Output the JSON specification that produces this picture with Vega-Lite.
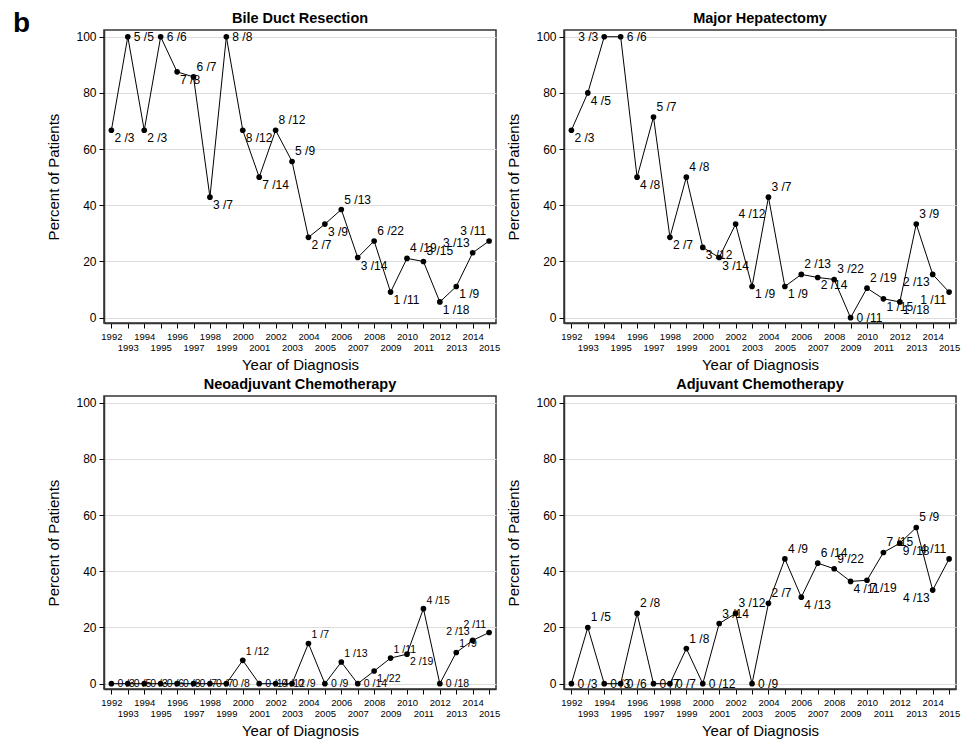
{
  "$schema": "https://vega.github.io/schema/vega-lite/v6.json",
  "background": "white",
  "padding": {"left": 13, "top": 9, "right": 5, "bottom": 5},
  "title": {"text": "b", "orient": "left", "angle": 0, "anchor": "end", "fontSize": 28, "fontWeight": "bold", "font": "Liberation Sans", "color": "black", "offset": -1, "frame": "bounds"},
  "datasets": {
    "rates": [
      {"panel": "Bile Duct Resection", "year": 1992, "pct": 66.7, "label": "2 /3"},
      {"panel": "Bile Duct Resection", "year": 1993, "pct": 100, "label": "5 /5"},
      {"panel": "Bile Duct Resection", "year": 1994, "pct": 66.7, "label": "2 /3"},
      {"panel": "Bile Duct Resection", "year": 1995, "pct": 100, "label": "6 /6"},
      {"panel": "Bile Duct Resection", "year": 1996, "pct": 87.5, "label": "7 /8"},
      {"panel": "Bile Duct Resection", "year": 1997, "pct": 85.7, "label": "6 /7"},
      {"panel": "Bile Duct Resection", "year": 1998, "pct": 42.9, "label": "3 /7"},
      {"panel": "Bile Duct Resection", "year": 1999, "pct": 100, "label": "8 /8"},
      {"panel": "Bile Duct Resection", "year": 2000, "pct": 66.7, "label": "8 /12"},
      {"panel": "Bile Duct Resection", "year": 2001, "pct": 50, "label": "7 /14"},
      {"panel": "Bile Duct Resection", "year": 2002, "pct": 66.7, "label": "8 /12"},
      {"panel": "Bile Duct Resection", "year": 2003, "pct": 55.6, "label": "5 /9"},
      {"panel": "Bile Duct Resection", "year": 2004, "pct": 28.6, "label": "2 /7"},
      {"panel": "Bile Duct Resection", "year": 2005, "pct": 33.3, "label": "3 /9"},
      {"panel": "Bile Duct Resection", "year": 2006, "pct": 38.5, "label": "5 /13"},
      {"panel": "Bile Duct Resection", "year": 2007, "pct": 21.4, "label": "3 /14"},
      {"panel": "Bile Duct Resection", "year": 2008, "pct": 27.3, "label": "6 /22"},
      {"panel": "Bile Duct Resection", "year": 2009, "pct": 9.1, "label": "1 /11"},
      {"panel": "Bile Duct Resection", "year": 2010, "pct": 21.1, "label": "4 /19"},
      {"panel": "Bile Duct Resection", "year": 2011, "pct": 20, "label": "3 /15"},
      {"panel": "Bile Duct Resection", "year": 2012, "pct": 5.6, "label": "1 /18"},
      {"panel": "Bile Duct Resection", "year": 2013, "pct": 11.1, "label": "1 /9"},
      {"panel": "Bile Duct Resection", "year": 2014, "pct": 23.1, "label": "3 /13"},
      {"panel": "Bile Duct Resection", "year": 2015, "pct": 27.3, "label": "3 /11"},
      {"panel": "Major Hepatectomy", "year": 1992, "pct": 66.7, "label": "2 /3"},
      {"panel": "Major Hepatectomy", "year": 1993, "pct": 80, "label": "4 /5"},
      {"panel": "Major Hepatectomy", "year": 1994, "pct": 100, "label": "3 /3"},
      {"panel": "Major Hepatectomy", "year": 1995, "pct": 100, "label": "6 /6"},
      {"panel": "Major Hepatectomy", "year": 1996, "pct": 50, "label": "4 /8"},
      {"panel": "Major Hepatectomy", "year": 1997, "pct": 71.4, "label": "5 /7"},
      {"panel": "Major Hepatectomy", "year": 1998, "pct": 28.6, "label": "2 /7"},
      {"panel": "Major Hepatectomy", "year": 1999, "pct": 50, "label": "4 /8"},
      {"panel": "Major Hepatectomy", "year": 2000, "pct": 25, "label": "3 /12"},
      {"panel": "Major Hepatectomy", "year": 2001, "pct": 21.4, "label": "3 /14"},
      {"panel": "Major Hepatectomy", "year": 2002, "pct": 33.3, "label": "4 /12"},
      {"panel": "Major Hepatectomy", "year": 2003, "pct": 11.1, "label": "1 /9"},
      {"panel": "Major Hepatectomy", "year": 2004, "pct": 42.9, "label": "3 /7"},
      {"panel": "Major Hepatectomy", "year": 2005, "pct": 11.1, "label": "1 /9"},
      {"panel": "Major Hepatectomy", "year": 2006, "pct": 15.4, "label": "2 /13"},
      {"panel": "Major Hepatectomy", "year": 2007, "pct": 14.3, "label": "2 /14"},
      {"panel": "Major Hepatectomy", "year": 2008, "pct": 13.6, "label": "3 /22"},
      {"panel": "Major Hepatectomy", "year": 2009, "pct": 0, "label": "0 /11"},
      {"panel": "Major Hepatectomy", "year": 2010, "pct": 10.5, "label": "2 /19"},
      {"panel": "Major Hepatectomy", "year": 2011, "pct": 6.7, "label": "1 /15"},
      {"panel": "Major Hepatectomy", "year": 2012, "pct": 5.6, "label": "1 /18"},
      {"panel": "Major Hepatectomy", "year": 2013, "pct": 33.3, "label": "3 /9"},
      {"panel": "Major Hepatectomy", "year": 2014, "pct": 15.4, "label": "2 /13"},
      {"panel": "Major Hepatectomy", "year": 2015, "pct": 9.1, "label": "1 /11"},
      {"panel": "Neoadjuvant Chemotherapy", "year": 1992, "pct": 0, "label": "0 /3"},
      {"panel": "Neoadjuvant Chemotherapy", "year": 1993, "pct": 0, "label": "0 /5"},
      {"panel": "Neoadjuvant Chemotherapy", "year": 1994, "pct": 0, "label": "0 /3"},
      {"panel": "Neoadjuvant Chemotherapy", "year": 1995, "pct": 0, "label": "0 /6"},
      {"panel": "Neoadjuvant Chemotherapy", "year": 1996, "pct": 0, "label": "0 /8"},
      {"panel": "Neoadjuvant Chemotherapy", "year": 1997, "pct": 0, "label": "0 /7"},
      {"panel": "Neoadjuvant Chemotherapy", "year": 1998, "pct": 0, "label": "0 /7"},
      {"panel": "Neoadjuvant Chemotherapy", "year": 1999, "pct": 0, "label": "0 /8"},
      {"panel": "Neoadjuvant Chemotherapy", "year": 2000, "pct": 8.3, "label": "1 /12"},
      {"panel": "Neoadjuvant Chemotherapy", "year": 2001, "pct": 0, "label": "0 /14"},
      {"panel": "Neoadjuvant Chemotherapy", "year": 2002, "pct": 0, "label": "0 /12"},
      {"panel": "Neoadjuvant Chemotherapy", "year": 2003, "pct": 0, "label": "0 /9"},
      {"panel": "Neoadjuvant Chemotherapy", "year": 2004, "pct": 14.3, "label": "1 /7"},
      {"panel": "Neoadjuvant Chemotherapy", "year": 2005, "pct": 0, "label": "0 /9"},
      {"panel": "Neoadjuvant Chemotherapy", "year": 2006, "pct": 7.7, "label": "1 /13"},
      {"panel": "Neoadjuvant Chemotherapy", "year": 2007, "pct": 0, "label": "0 /14"},
      {"panel": "Neoadjuvant Chemotherapy", "year": 2008, "pct": 4.5, "label": "1 /22"},
      {"panel": "Neoadjuvant Chemotherapy", "year": 2009, "pct": 9.1, "label": "1 /11"},
      {"panel": "Neoadjuvant Chemotherapy", "year": 2010, "pct": 10.5, "label": "2 /19"},
      {"panel": "Neoadjuvant Chemotherapy", "year": 2011, "pct": 26.7, "label": "4 /15"},
      {"panel": "Neoadjuvant Chemotherapy", "year": 2012, "pct": 0, "label": "0 /18"},
      {"panel": "Neoadjuvant Chemotherapy", "year": 2013, "pct": 11.1, "label": "1 /9"},
      {"panel": "Neoadjuvant Chemotherapy", "year": 2014, "pct": 15.4, "label": "2 /13"},
      {"panel": "Neoadjuvant Chemotherapy", "year": 2015, "pct": 18.2, "label": "2 /11"},
      {"panel": "Adjuvant Chemotherapy", "year": 1992, "pct": 0, "label": "0 /3"},
      {"panel": "Adjuvant Chemotherapy", "year": 1993, "pct": 20, "label": "1 /5"},
      {"panel": "Adjuvant Chemotherapy", "year": 1994, "pct": 0, "label": "0 /3"},
      {"panel": "Adjuvant Chemotherapy", "year": 1995, "pct": 0, "label": "0 /6"},
      {"panel": "Adjuvant Chemotherapy", "year": 1996, "pct": 25, "label": "2 /8"},
      {"panel": "Adjuvant Chemotherapy", "year": 1997, "pct": 0, "label": "0 /7"},
      {"panel": "Adjuvant Chemotherapy", "year": 1998, "pct": 0, "label": "0 /7"},
      {"panel": "Adjuvant Chemotherapy", "year": 1999, "pct": 12.5, "label": "1 /8"},
      {"panel": "Adjuvant Chemotherapy", "year": 2000, "pct": 0, "label": "0 /12"},
      {"panel": "Adjuvant Chemotherapy", "year": 2001, "pct": 21.4, "label": "3 /14"},
      {"panel": "Adjuvant Chemotherapy", "year": 2002, "pct": 25, "label": "3 /12"},
      {"panel": "Adjuvant Chemotherapy", "year": 2003, "pct": 0, "label": "0 /9"},
      {"panel": "Adjuvant Chemotherapy", "year": 2004, "pct": 28.6, "label": "2 /7"},
      {"panel": "Adjuvant Chemotherapy", "year": 2005, "pct": 44.4, "label": "4 /9"},
      {"panel": "Adjuvant Chemotherapy", "year": 2006, "pct": 30.8, "label": "4 /13"},
      {"panel": "Adjuvant Chemotherapy", "year": 2007, "pct": 42.9, "label": "6 /14"},
      {"panel": "Adjuvant Chemotherapy", "year": 2008, "pct": 40.9, "label": "9 /22"},
      {"panel": "Adjuvant Chemotherapy", "year": 2009, "pct": 36.4, "label": "4 /11"},
      {"panel": "Adjuvant Chemotherapy", "year": 2010, "pct": 36.8, "label": "7 /19"},
      {"panel": "Adjuvant Chemotherapy", "year": 2011, "pct": 46.7, "label": "7 /15"},
      {"panel": "Adjuvant Chemotherapy", "year": 2012, "pct": 50, "label": "9 /18"},
      {"panel": "Adjuvant Chemotherapy", "year": 2013, "pct": 55.6, "label": "5 /9"},
      {"panel": "Adjuvant Chemotherapy", "year": 2014, "pct": 33.3, "label": "4 /13"},
      {"panel": "Adjuvant Chemotherapy", "year": 2015, "pct": 44.4, "label": "4 /11"}
    ]
  },
  "data": {"name": "rates"},
  "transform": [
    {"window": [{"op": "lag", "field": "pct", "as": "prev"}, {"op": "lead", "field": "pct", "as": "next"}, {"op": "lead", "field": "pct", "param": 2, "as": "next2"}], "groupby": ["panel"], "sort": [{"field": "year"}]},
    {"calculate": "datum.pct == 0 || datum.pct == 100 ? 'level' : (datum.pct >= ((datum.prev == null ? datum.next : datum.prev) + (datum.next == null ? datum.prev : datum.next)) / 2 ? 'up' : 'down')", "as": "place"},
    {"calculate": "datum.next == null || datum.next2 == null || (datum.pct == 100 && datum.next == 100) ? 'left' : 'right'", "as": "side"}
  ],
  "columns": 2,
  "spacing": {"row": 73, "column": 68},
  "bounds": "flush",
  "concat": [
    {
      "title": {"text": "Bile Duct Resection"},
      "width": 392, "height": 293,
      "transform": [{"filter": "datum.panel == 'Bile Duct Resection'"}],
      "encoding": {
        "x": {"field": "year", "type": "quantitative", "scale": {"domain": [1991.55, 2015.42], "nice": false, "zero": false}, "axis": {"title": "Year of Diagnosis", "values": [1992, 1993, 1994, 1995, 1996, 1997, 1998, 1999, 2000, 2001, 2002, 2003, 2004, 2005, 2006, 2007, 2008, 2009, 2010, 2011, 2012, 2013, 2014, 2015]}},
        "y": {"field": "pct", "type": "quantitative", "scale": {"domain": [-1.9, 102.4], "nice": false, "zero": false}, "axis": {"title": "Percent of Patients", "values": [0, 20, 40, 60, 80, 100]}}
      },
      "layer": [
        {"mark": {"type": "line", "color": "black", "strokeWidth": 1}},
        {"mark": {"type": "circle", "color": "black", "size": 32, "opacity": 1}},
        {"mark": {"type": "text", "fontSize": 12,
          "align": {"expr": "datum.side == 'left' ? 'right' : 'left'"},
          "baseline": {"expr": "datum.place == 'up' ? 'bottom' : datum.place == 'down' ? 'top' : 'middle'"},
          "dx": {"expr": "(datum.side == 'left' ? -1 : 1) * (datum.place == 'level' ? 6 : 3)"},
          "dy": {"expr": "datum.place == 'up' ? -3 : datum.place == 'down' ? 3 : 0"}},
         "encoding": {"text": {"field": "label"}}}
      ]
    },
    {
      "title": {"text": "Major Hepatectomy"},
      "width": 392, "height": 293,
      "transform": [{"filter": "datum.panel == 'Major Hepatectomy'"}],
      "encoding": {
        "x": {"field": "year", "type": "quantitative", "scale": {"domain": [1991.55, 2015.42], "nice": false, "zero": false}, "axis": {"title": "Year of Diagnosis", "values": [1992, 1993, 1994, 1995, 1996, 1997, 1998, 1999, 2000, 2001, 2002, 2003, 2004, 2005, 2006, 2007, 2008, 2009, 2010, 2011, 2012, 2013, 2014, 2015]}},
        "y": {"field": "pct", "type": "quantitative", "scale": {"domain": [-1.9, 102.4], "nice": false, "zero": false}, "axis": {"title": "Percent of Patients", "values": [0, 20, 40, 60, 80, 100]}}
      },
      "layer": [
        {"mark": {"type": "line", "color": "black", "strokeWidth": 1}},
        {"mark": {"type": "circle", "color": "black", "size": 32, "opacity": 1}},
        {"mark": {"type": "text", "fontSize": 12,
          "align": {"expr": "datum.side == 'left' ? 'right' : 'left'"},
          "baseline": {"expr": "datum.place == 'up' ? 'bottom' : datum.place == 'down' ? 'top' : 'middle'"},
          "dx": {"expr": "(datum.side == 'left' ? -1 : 1) * (datum.place == 'level' ? 6 : 3)"},
          "dy": {"expr": "datum.place == 'up' ? -3 : datum.place == 'down' ? 3 : 0"}},
         "encoding": {"text": {"field": "label"}}}
      ]
    },
    {
      "title": {"text": "Neoadjuvant Chemotherapy"},
      "width": 392, "height": 293,
      "transform": [{"filter": "datum.panel == 'Neoadjuvant Chemotherapy'"}],
      "encoding": {
        "x": {"field": "year", "type": "quantitative", "scale": {"domain": [1991.55, 2015.42], "nice": false, "zero": false}, "axis": {"title": "Year of Diagnosis", "values": [1992, 1993, 1994, 1995, 1996, 1997, 1998, 1999, 2000, 2001, 2002, 2003, 2004, 2005, 2006, 2007, 2008, 2009, 2010, 2011, 2012, 2013, 2014, 2015]}},
        "y": {"field": "pct", "type": "quantitative", "scale": {"domain": [-1.9, 102.4], "nice": false, "zero": false}, "axis": {"title": "Percent of Patients", "values": [0, 20, 40, 60, 80, 100]}}
      },
      "layer": [
        {"mark": {"type": "line", "color": "black", "strokeWidth": 1}},
        {"mark": {"type": "circle", "color": "black", "size": 32, "opacity": 1}},
        {"mark": {"type": "text", "fontSize": 10.5,
          "align": {"expr": "datum.side == 'left' ? 'right' : 'left'"},
          "baseline": {"expr": "datum.place == 'up' ? 'bottom' : datum.place == 'down' ? 'top' : 'middle'"},
          "dx": {"expr": "(datum.side == 'left' ? -1 : 1) * (datum.place == 'level' ? 6 : 3)"},
          "dy": {"expr": "datum.place == 'up' ? -3 : datum.place == 'down' ? 3 : 0"}},
         "encoding": {"text": {"field": "label"}}}
      ]
    },
    {
      "title": {"text": "Adjuvant Chemotherapy"},
      "width": 392, "height": 293,
      "transform": [{"filter": "datum.panel == 'Adjuvant Chemotherapy'"}],
      "encoding": {
        "x": {"field": "year", "type": "quantitative", "scale": {"domain": [1991.55, 2015.42], "nice": false, "zero": false}, "axis": {"title": "Year of Diagnosis", "values": [1992, 1993, 1994, 1995, 1996, 1997, 1998, 1999, 2000, 2001, 2002, 2003, 2004, 2005, 2006, 2007, 2008, 2009, 2010, 2011, 2012, 2013, 2014, 2015]}},
        "y": {"field": "pct", "type": "quantitative", "scale": {"domain": [-1.9, 102.4], "nice": false, "zero": false}, "axis": {"title": "Percent of Patients", "values": [0, 20, 40, 60, 80, 100]}}
      },
      "layer": [
        {"mark": {"type": "line", "color": "black", "strokeWidth": 1}},
        {"mark": {"type": "circle", "color": "black", "size": 32, "opacity": 1}},
        {"mark": {"type": "text", "fontSize": 12,
          "align": {"expr": "datum.side == 'left' ? 'right' : 'left'"},
          "baseline": {"expr": "datum.place == 'up' ? 'bottom' : datum.place == 'down' ? 'top' : 'middle'"},
          "dx": {"expr": "(datum.side == 'left' ? -1 : 1) * (datum.place == 'level' ? 6 : 3)"},
          "dy": {"expr": "datum.place == 'up' ? -3 : datum.place == 'down' ? 3 : 0"}},
         "encoding": {"text": {"field": "label"}}}
      ]
    }
  ],
  "config": {
    "font": "Liberation Sans",
    "view": {"stroke": "#333333", "strokeWidth": 1.5},
    "text": {"color": "black", "font": "Liberation Sans"},
    "title": {"fontSize": 14.5, "fontWeight": "bold", "color": "black", "frame": "group", "anchor": "middle", "offset": 4},
    "axisX": {
      "format": "d", "grid": false, "labelOverlap": false, "labelFlush": false,
      "labelFontSize": 9.5, "labelColor": "black",
      "labelPadding": {"condition": {"test": "datum.value % 2 == 1", "value": 14}, "value": 3},
      "tickSize": 5, "tickColor": "black", "domainColor": "#333333", "domainWidth": 1.5,
      "titleFontSize": 15, "titleFontWeight": "normal", "titleColor": "black", "titlePadding": 6
    },
    "axisY": {
      "grid": true, "gridColor": "#dddddd", "gridWidth": 1,
      "labelFontSize": 12, "labelColor": "black", "labelPadding": 3,
      "tickSize": 5, "tickColor": "black", "domainColor": "#333333", "domainWidth": 1.5,
      "titleFontSize": 15, "titleFontWeight": "normal", "titleColor": "black", "titlePadding": 14
    }
  }
}
